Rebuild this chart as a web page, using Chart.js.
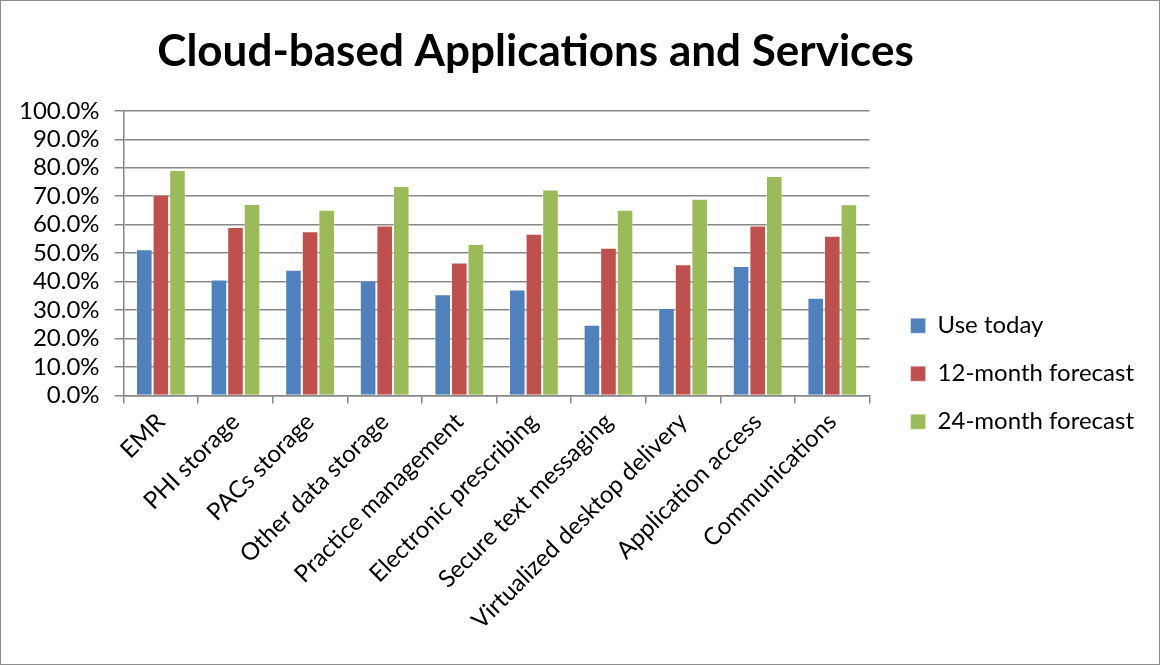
<!DOCTYPE html>
<html>
<head>
<meta charset="utf-8">
<script src="https://cdn.jsdelivr.net/npm/chart.js@4/dist/chart.umd.min.js"></script>
<style>
  html, body { margin: 0; padding: 0; background: #fff; }
  #box { width: 1160px; height: 665px; box-sizing: border-box; border: 1px solid #8c8c8c; }
</style>
</head>
<body>
<div id="box"><canvas id="grafico"></canvas></div>
<script>
var categorias = ["EMR", "PHI storage", "PACs storage", "Other data storage", "Practice management",
    "Electronic prescribing", "Secure text messaging", "Virtualized desktop delivery",
    "Application access", "Communications"];

var useToday = [51.4, 40.8, 44.2, 40.4, 35.6, 37.3, 24.9, 30.8, 45.5, 34.4];
var forecast12 = [70.5, 59.2, 57.7, 59.7, 46.7, 56.8, 51.9, 46.1, 59.7, 56.1];
var forecast24 = [79.2, 67.3, 65.3, 73.6, 53.2, 72.4, 65.3, 69.1, 77.1, 67.2];

var nomesSeries = ["Use today", "12-month forecast", "24-month forecast"];
var titulo = "Cloud-based Applications and Services";

var fonte = "Lato, 'Liberation Sans', sans-serif";
var corGrade = "#878787";

// nudge title left and legend right, like the original
var ajustes = {
    id: "ajustes",
    afterLayout: function (chart) {
        if (chart.titleBlock) {
            chart.titleBlock.right = chart.titleBlock.right - 60;
        }
        if (chart.legend) {
            chart.legend.left += 17;
            chart.legend.right += 17;
        }
    }
};

var ctx = document.querySelector("#grafico").getContext("2d");

var grafico = new Chart(ctx, {
    type: "bar",
    data: {
        labels: categorias,
        datasets: [{
            label: nomesSeries[0],
            backgroundColor: "#4F81BD",
            borderColor: "rgba(255,255,255,0.35)",
            borderWidth: 1,
            data: useToday
        }, {
            label: nomesSeries[1],
            backgroundColor: "#C0504D",
            borderColor: "rgba(255,255,255,0.35)",
            borderWidth: 1,
            data: forecast12
        }, {
            label: nomesSeries[2],
            backgroundColor: "#9BBB59",
            borderColor: "rgba(255,255,255,0.35)",
            borderWidth: 1,
            data: forecast24
        }]
    },
    options: {
        responsive: true,
        maintainAspectRatio: false,
        animation: false,
        layout: {
            padding: { left: 3, right: 32, bottom: 25, top: 0 }
        },
        datasets: {
            bar: { categoryPercentage: 0.667, barPercentage: 1.0 }
        },
        scales: {
            x: {
                grid: {
                    display: true,
                    drawOnChartArea: false,
                    color: corGrade,
                    lineWidth: 1.5,
                    tickLength: 8,
                    offset: true
                },
                border: { color: corGrade, width: 1.5 },
                ticks: {
                    color: "#000",
                    font: { family: fonte, size: 24 },
                    minRotation: 45,
                    maxRotation: 45,
                    autoSkip: false,
                    padding: 4
                }
            },
            y: {
                min: 0,
                max: 100,
                grid: {
                    color: corGrade,
                    lineWidth: 1.5,
                    tickLength: 9
                },
                border: { color: corGrade, width: 1.5 },
                ticks: {
                    stepSize: 10,
                    autoSkip: false,
                    color: "#000",
                    font: { family: fonte, size: 24 },
                    padding: 15,
                    callback: function (v) { return v.toFixed(1) + "%"; }
                }
            }
        },
        plugins: {
            title: {
                display: true,
                text: titulo,
                color: "#000",
                font: { family: fonte, size: 44, weight: "bold" },
                padding: { top: 24, bottom: 33 }
            },
            legend: {
                position: "right",
                title: {
                    display: true,
                    text: "",
                    padding: { top: 93, bottom: 0 }
                },
                labels: {
                    color: "#000",
                    font: { family: fonte, size: 24 },
                    boxWidth: 15,
                    boxHeight: 15,
                    padding: 24
                }
            },
            tooltip: { enabled: false }
        }
    },
    plugins: [ajustes]
});
</script>
</body>
</html>
